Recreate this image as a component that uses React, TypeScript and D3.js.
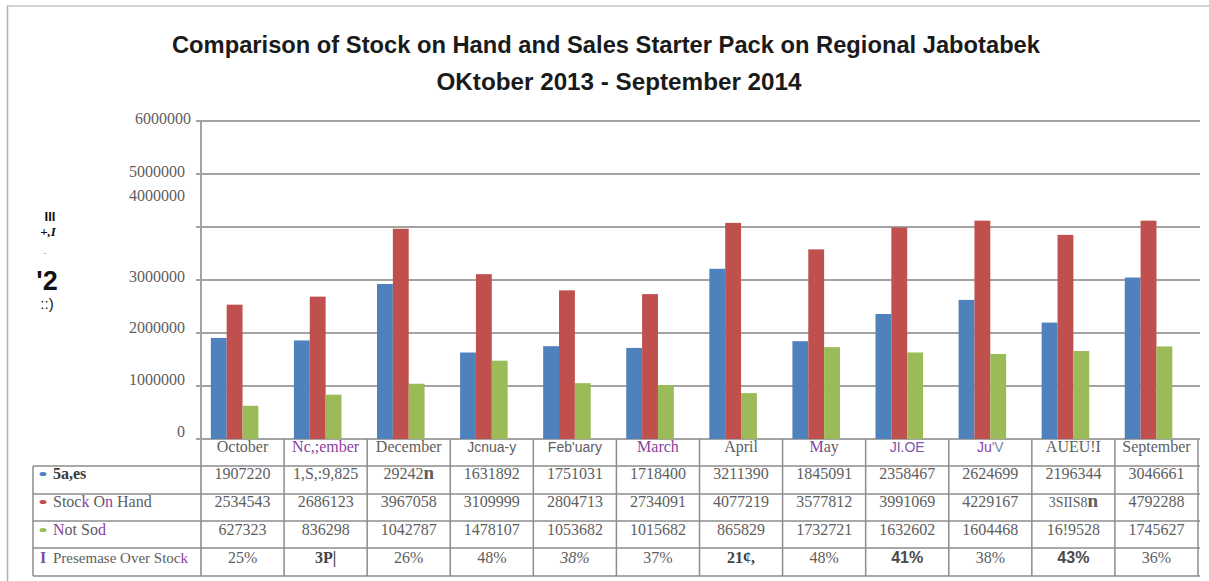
import React from 'react';
import * as d3 from 'd3';

// ---- data ----
const months = ['October', 'Nc,;ember', 'December', 'Jcnua-y', "Feb'uary", 'March', 'April', 'May', 'JI.OE', "Ju'V", 'AUEU!I', 'September'];

const sales = [1907220, 1859825, 2924270, 1631892, 1751031, 1718400, 3211390, 1845091, 2358467, 2624699, 2196344, 3046661];
const stockOnHand = [2534543, 2686123, 3967058, 3109999, 2804713, 2734091, 4077219, 3577812, 3991069, 4120000, 3851587, 4120000];
const notSold = [627323, 836298, 1042787, 1478107, 1053682, 1015682, 865829, 1732721, 1632602, 1604468, 1659528, 1745627];
const overStock = [0.25, 0.31, 0.26, 0.48, 0.38, 0.37, 0.21, 0.48, 0.41, 0.38, 0.43, 0.36];

// table text as it appears in the picture
const salesText = ['1907220', '1,S,:9,825', '29242n', '1631892', '1751031', '1718400', '3211390', '1845091', '2358467', '2624699', '2196344', '3046661'];
const stockText = ['2534543', '2686123', '3967058', '3109999', '2804713', '2734091', '4077219', '3577812', '3991069', '4229167', '3SIIS8n', '4792288'];
const notSoldText = ['627323', '836298', '1042787', '1478107', '1053682', '1015682', '865829', '1732721', '1632602', '1604468', '16!9528', '1745627'];
const pctText = ['25%', '3P|', '26%', '48%', '38%', '37%', '21¢,', '48%', '41%', '38%', '43%', '36%'];

const yTicks = [0, 1000000, 2000000, 3000000, 4000000, 5000000, 6000000];
const yTickLabels = ['0', '1000000', '2000000', '3000000', '4000000', '5000000', '6000000'];

const titleLine1 = 'Comparison of Stock on Hand and Sales Starter Pack on Regional Jabotabek';
const titleLine2 = 'OKtober 2013 - September 2014';

// ---- layout ----
const W = 1209;
const H = 581;
const plotLeft = 201;
const plotRight = 1198;
const plotTop = 121;
const plotBottom = 439;
const legendLeft = 33;
const rowLines = [466, 494, 521, 548, 576];
const rowBaselines = [479, 507, 535, 563];
const headerBaseline = 452;
const tickLabelDy = [-2, -1, 0, 2, -26, 3, 3];

const SERIF = "'Liberation Serif', 'Times New Roman', serif";
const SANS = "'Liberation Sans', Arial, sans-serif";
const GRAY = '#5e5e5e';
const PURPLE = '#8a3f9e';
const GRID = '#a3a3a3';

const series = [
  { key: 'sales', values: sales, color: '#4f81bd' },
  { key: 'stock', values: stockOnHand, color: '#c0504d' },
  { key: 'notSold', values: notSold, color: '#9bbb59' },
  { key: 'over', values: overStock, color: '#8064a2' },
];

function monthLabel(i: number, m: string) {
  if (i === 1 || i === 5) return <tspan fill={PURPLE}>{m}</tspan>;
  if (i === 3 || i === 4) return <tspan fontFamily={SANS} fontSize={14}>{m}</tspan>;
  if (i === 7) return (<><tspan fill={PURPLE}>M</tspan><tspan>ay</tspan></>);
  if (i === 8) return <tspan fontFamily={SANS} fontSize={14} fill="#7a5aa8">{m}</tspan>;
  if (i === 9) return (<><tspan fill={PURPLE} fontFamily={SANS} fontSize={14}>Ju</tspan><tspan fill="#7d86b0" fontFamily={SANS} fontSize={14}>'V</tspan></>);
  return <tspan>{m}</tspan>;
}

function cell(row: number, col: number, t: string) {
  if (row === 0 && col === 2) return (<><tspan>29242</tspan><tspan fontWeight="bold" fontSize={19}>n</tspan></>);
  if (row === 1 && col === 10) return (<><tspan fontSize={14}>3SIIS8</tspan><tspan fontWeight="bold" fontSize={19}>n</tspan></>);
  if (row === 3) {
    if (col === 1 || col === 6) return <tspan fontWeight="bold" fill="#444">{t}</tspan>;
    if (col === 8 || col === 10) return <tspan fontWeight="bold" fontFamily={SANS} fill="#4a4a4a">{t}</tspan>;
    if (col === 4) return <tspan fontStyle="italic">{t}</tspan>;
  }
  return <tspan>{t}</tspan>;
}

export default function App() {
  const x0 = d3.scaleBand<string>().domain(months).range([plotLeft, plotRight]).paddingInner(0).paddingOuter(0);
  const x1 = d3.scaleBand<string>().domain(series.map(s => s.key)).range([0, x0.bandwidth()]).paddingInner(0).paddingOuter(0.62);
  const y = d3.scaleLinear().domain([0, 6000000]).range([plotBottom, plotTop]);

  const rows = [salesText, stockText, notSoldText, pctText];

  return (
    <svg width={W} height={H} style={{ position: 'absolute', left: 0, top: 0, background: '#fff' }}>
      {/* outer frame */}
      <line x1={7} y1={6} x2={W} y2={6} stroke="#c4c4c4" strokeWidth={1.5} />
      <line x1={7.5} y1={6} x2={7.5} y2={H} stroke="#b0b0b0" strokeWidth={1.5} />

      {/* title */}
      <text x={606} y={53} textAnchor="middle" fontFamily={SANS} fontWeight="bold" fontSize={23} fill="#1a1a1a"
        textLength={868} lengthAdjust="spacingAndGlyphs">{titleLine1}</text>
      <text x={619} y={90} textAnchor="middle" fontFamily={SANS} fontWeight="bold" fontSize={23} fill="#1a1a1a"
        textLength={365} lengthAdjust="spacingAndGlyphs">{titleLine2}</text>

      {/* garbled axis title */}
      <g fill="#111">
        <text x={50} y={221} textAnchor="middle" fontFamily={SANS} fontWeight="bold" fontSize={13}>III</text>
        <text x={48} y={236} textAnchor="middle" fontFamily={SERIF} fontStyle="italic" fontWeight="bold" fontSize={13}>+,I</text>
        <text x={45} y={256} textAnchor="middle" fontFamily={SANS} fontSize={10} fill="#bbb">-</text>
        <text x={47} y={290} textAnchor="middle" fontFamily={SANS} fontWeight="bold" fontSize={27}>'2</text>
        <text x={47} y={309} textAnchor="middle" fontFamily={SANS} fontSize={15}>::)</text>
      </g>

      {/* grid lines and y ticks */}
      {yTicks.map(v => (
        <line key={'g' + v} x1={plotLeft - 5} x2={plotRight + 2} y1={y(v)} y2={y(v)} stroke={GRID} strokeWidth={2} />
      ))}
      <line x1={plotLeft} x2={plotLeft} y1={plotTop} y2={rowLines[rowLines.length - 1]} stroke={GRID} strokeWidth={2} />
      {yTicks.map((v, i) => (
        <text key={'t' + v} x={i === 6 ? 191 : 185} y={y(v) + tickLabelDy[i]} textAnchor="end" fontFamily={SERIF} fontSize={16} fill={GRAY}>
          {yTickLabels[i]}
        </text>
      ))}

      {/* bars */}
      {series.map(s => (
        <g key={s.key} fill={s.color}>
          {months.map((m, i) => (
            <rect key={m} x={(x0(m) || 0) + (x1(s.key) || 0)} y={y(s.values[i])}
              width={x1.bandwidth()} height={y(0) - y(s.values[i])} />
          ))}
        </g>
      ))}

      {/* data table */}
      <g stroke="#8c8c8c" strokeWidth={1.5}>
        {rowLines.map(ly => (
          <line key={'r' + ly} x1={legendLeft} x2={plotRight + 2} y1={ly} y2={ly} />
        ))}
        <line x1={legendLeft} x2={legendLeft} y1={rowLines[0]} y2={rowLines[rowLines.length - 1]} />
        {months.map(m => (
          <line key={'v' + m} x1={(x0(m) || 0) + x0.bandwidth()} x2={(x0(m) || 0) + x0.bandwidth()}
            y1={plotBottom} y2={rowLines[rowLines.length - 1]} />
        ))}
      </g>

      {months.map((m, i) => (
        <text key={'h' + m} x={(x0(m) || 0) + x0.bandwidth() / 2} y={headerBaseline} textAnchor="middle"
          fontFamily={SERIF} fontSize={16} fill={GRAY}>{monthLabel(i, m)}</text>
      ))}

      {rows.map((r, ri) => r.map((t, ci) => (
        <text key={ri + '-' + ci} x={(x0(months[ci]) || 0) + x0.bandwidth() / 2} y={rowBaselines[ri]} textAnchor="middle"
          fontFamily={SERIF} fontSize={16} fill={GRAY}>{cell(ri, ci, t)}</text>
      )))}

      {/* legend keys in the table */}
      {series.slice(0, 3).map((s, i) => (
        <ellipse key={'k' + s.key} cx={43} cy={rowBaselines[i] - 5} rx={3.5} ry={2} fill={s.color} />
      ))}
      <text x={43} y={rowBaselines[3]} textAnchor="middle" fontFamily={SERIF} fontWeight="bold" fontSize={16} fill="#7a4fa0">I</text>

      <text x={53} y={rowBaselines[0]} fontFamily={SERIF} fontSize={16} fontWeight="bold" fill="#3a3a3a">5a,es</text>
      <text x={53} y={rowBaselines[1]} fontFamily={SERIF} fontSize={16} fill={GRAY}>
        <tspan>Stoc</tspan><tspan fill={PURPLE}>k</tspan><tspan> O</tspan><tspan fill={PURPLE}>n</tspan><tspan> Hand</tspan>
      </text>
      <text x={53} y={rowBaselines[2]} fontFamily={SERIF} fontSize={16} fill={GRAY}>
        <tspan fill={PURPLE}>N</tspan><tspan>ot So</tspan><tspan fill={PURPLE}>d</tspan>
      </text>
      <text x={53} y={rowBaselines[3]} fontFamily={SERIF} fontSize={15} fill={GRAY}>
        <tspan>Presemase Over Stoc</tspan><tspan fill={PURPLE}>k</tspan>
      </text>
    </svg>
  );
}
